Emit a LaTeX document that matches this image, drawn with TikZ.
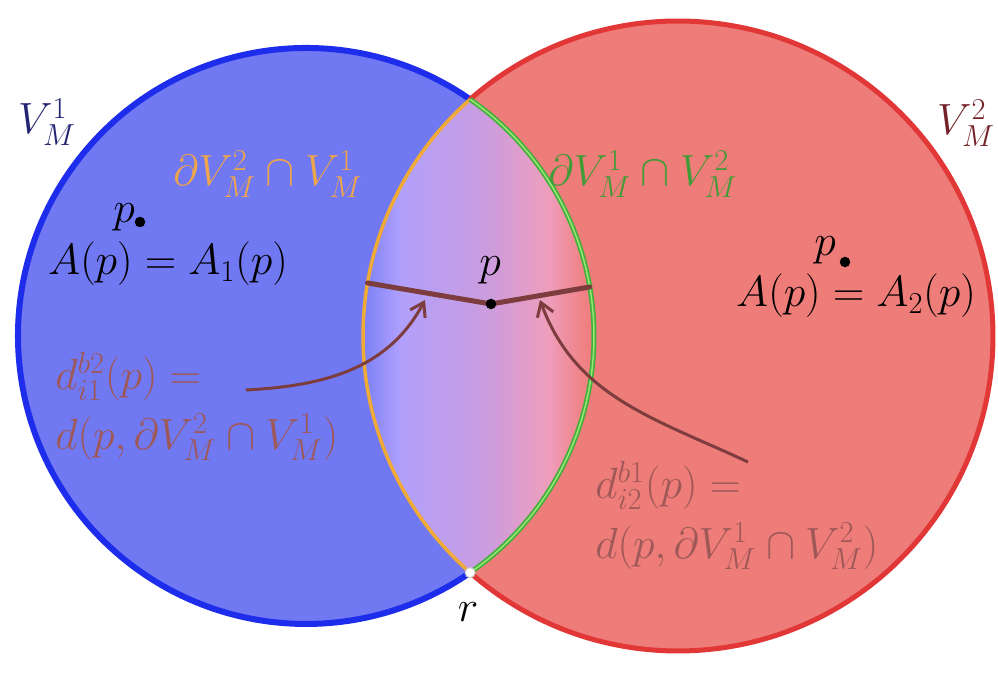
\documentclass[tikz,border=0pt]{standalone}
\usepackage{xcolor}
\usepackage{amsmath, amsfonts, amssymb}
\usepackage{tikz}
\usetikzlibrary{arrows.meta}

\definecolor{cellblue}{RGB}{112,120,242}
\definecolor{edgeblue}{RGB}{30,45,235}
\definecolor{cellred}{RGB}{238,124,120}
\definecolor{edgered}{RGB}{225,55,55}
\definecolor{bdorange}{RGB}{240,170,55}
\definecolor{bdgreen}{RGB}{70,175,60}
\definecolor{bdgreenlight}{RGB}{150,230,120}
\definecolor{distbrown}{RGB}{125,60,62}
\definecolor{labelbrown}{RGB}{158,88,88}
\definecolor{navy}{RGB}{35,35,115}
\definecolor{maroon}{RGB}{115,35,40}
\definecolor{textorange}{RGB}{238,165,75}
\definecolor{textgreen}{RGB}{65,155,55}
\definecolor{lensA}{RGB}{122,128,246}
\definecolor{lensB}{RGB}{176,160,252}
\definecolor{lensC}{RGB}{204,156,222}
\definecolor{lensD}{RGB}{238,158,188}
\definecolor{lensE}{RGB}{240,132,138}

\pgfdeclarehorizontalshading{lensshade}{100bp}{color(0bp)=(lensA); color(25bp)=(lensA);
  color(33bp)=(lensB); color(52bp)=(lensC); color(65bp)=(lensD); color(72bp)=(lensE);
  color(75bp)=(cellred); color(100bp)=(cellred)}

\begin{document}
\begin{tikzpicture}[x=0.2mm, y=0.2mm,
    dist/.style={distbrown, line width=1mm, line cap=round},
    pointer/.style={distbrown, line width=0.6mm, -{Straight Barb[length=2.6mm, width=3.4mm]}},
    dot/.style={circle, fill=black, inner sep=0pt, minimum size=2.1mm},
    lbl/.style={font=\fontsize{24}{28}\selectfont, inner sep=0pt},
    distlbl/.style={font=\fontsize{24}{34}\selectfont, inner sep=0pt, labelbrown, anchor=north west, align=left}]
        % Canvas
        \fill[white] (0,0) rectangle (998,677);
        \useasboundingbox (0,0) rectangle (998,677);

        % Draw the two cells
        \fill[cellblue] (306,341) circle[radius=288];
        \fill[cellred] (678,341) circle[radius=315];

        % Shade the overlap
        \begin{scope}
            \clip (306,341) circle[radius=288];
            \clip (678,341) circle[radius=315];
            \shade[shading=lensshade] (363,0) rectangle (594,677);
        \end{scope}

        % Draw the outer edges
        \draw[edgeblue, line width=1.2mm] (306,341) ++(55.26:288) arc[start angle=55.26, end angle=304.74, radius=288];
        \draw[edgered, line width=1mm] (678,341) ++(-131.3:315) arc[start angle=-131.3, end angle=131.3, radius=315];

        % Draw the shared boundaries
        \draw[bdorange, line width=0.7mm] (678,341) ++(131.3:315) arc[start angle=131.3, end angle=228.7, radius=315];
        \draw[bdgreen, line width=1mm] (306,341) ++(-55.26:288) arc[start angle=-55.26, end angle=55.26, radius=288];
        \draw[bdgreenlight, line width=0.3mm] (306,341) ++(-55.26:288) arc[start angle=-55.26, end angle=55.26, radius=288];

        % Add cell labels
        \node[lbl, navy] (vone) at (47,555) {$V_M^1$};
        \node[lbl, maroon] (vtwo) at (966,554) {$V_M^2$};
        \node[lbl, textorange] (bdone) at (268,503) {$\partial V_M^2 \cap V_M^1$};
        \node[lbl, textgreen] (bdtwo) at (643,503) {$\partial V_M^1 \cap V_M^2$};

        % Add points
        \node[lbl] (pnameone) at (124,460) {$p$};
        \node[dot] (pone) at (140,455) {};
        \node[lbl] (aone) at (168,413) {$A(p) = A_1(p)$};
        \node[lbl] (pnametwo) at (825,427) {$p$};
        \node[dot] (ptwo) at (845,415) {};
        \node[lbl] (atwo) at (856,381) {$A(p) = A_2(p)$};
        \node[lbl] (pnamemid) at (490,407) {$p$};

        % Distances to the shared boundaries
        \coordinate (footone) at (367.5,394);
        \coordinate (foottwo) at (589.8,390);
        \coordinate (pmidc) at (491,373);
        \draw[dist] (footone) -- (pmidc) -- (foottwo);
        \node[dot] (pmid) at (pmidc) {};

        % Add distance labels
        \node[distlbl] (dlone) at (55,325)
            {$d_{i1}^{b2}(p) =$\\$d(p, \partial V_M^2 \cap V_M^1)$};
        \node[distlbl] (dltwo) at (595,216)
            {$d_{i2}^{b1}(p) =$\\$d(p, \partial V_M^1 \cap V_M^2)$};

        % Add pointers
        \coordinate (tailone) at (246,287);
        \coordinate (tipone) at (425,377);
        \coordinate (tailtwo) at (748,215);
        \coordinate (tiptwo) at (540,377);
        \draw[pointer] (tailone) to[out=3, in=-118] (tipone);
        \draw[pointer] (tailtwo) to[out=155, in=-70] (tiptwo);

        % Add the corner point
        \node[circle, fill=white, draw=gray!40, line width=0.2mm, inner sep=0pt, minimum size=2mm] (rpt) at (470.1,104.34) {};
        \node[lbl] (rname) at (468,65) {$r$};
    \end{tikzpicture}
\end{document}
